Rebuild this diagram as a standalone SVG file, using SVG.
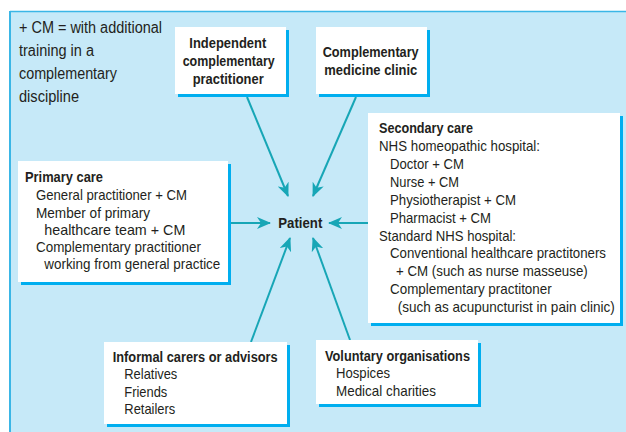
<svg xmlns="http://www.w3.org/2000/svg" width="626" height="432" viewBox="0 0 626 432">
  <style>
    text { font-family: "Liberation Sans", Arial, sans-serif; fill: #231f20; font-size: 15px; }
    .b { font-weight: bold; font-size: 14.5px; }
    .n { font-size: 16px; }
    .box { fill: #ffffff; }
    .shadow { fill: #00aeef; }
    .conn { stroke: #17a6b6; stroke-width: 2; fill: none; marker-end: url(#head); }
  </style>
  <defs>
    <marker id="head" viewBox="0 0 14 12" refX="13" refY="6" markerWidth="14" markerHeight="12" markerUnits="userSpaceOnUse" orient="auto">
      <path d="M0,0 L14,6 L0,12 L4,6 Z" fill="#17a6b6"/>
    </marker>
  </defs>

  <!-- background panel -->
  <rect x="10" y="12" width="620" height="424" fill="#c6e9f8"/>
  <line x1="10" y1="11.5" x2="626" y2="11.5" stroke="#3ab6e6" stroke-width="1.5"/>
  <line x1="10" y1="11" x2="10" y2="432" stroke="#3ab6e6" stroke-width="2"/>

  <!-- key note -->
  <g id="note">
    <text class="n" x="19" y="33" textLength="143" lengthAdjust="spacingAndGlyphs">+ CM = with additional</text>
    <text class="n" x="19" y="56" textLength="75" lengthAdjust="spacingAndGlyphs">training in a</text>
    <text class="n" x="19" y="79" textLength="98" lengthAdjust="spacingAndGlyphs">complementary</text>
    <text class="n" x="19" y="102" textLength="60" lengthAdjust="spacingAndGlyphs">discipline</text>
  </g>

  <!-- connectors -->
  <g id="connectors">
    <line class="conn" x1="247" y1="97" x2="288" y2="196"/>
    <line class="conn" x1="356" y1="97" x2="313" y2="196"/>
    <line class="conn" x1="231" y1="223" x2="270" y2="223"/>
    <line class="conn" x1="368" y1="223" x2="329" y2="223"/>
    <line class="conn" x1="251" y1="342" x2="290" y2="238"/>
    <line class="conn" x1="350" y1="340" x2="313" y2="238"/>
  </g>

  <g id="independent">
    <rect class="shadow" x="178" y="30" width="111" height="67"/>
    <rect class="box" x="175" y="27" width="111" height="67"/>
    <text class="b" x="189.3" y="48" textLength="77" lengthAdjust="spacingAndGlyphs">Independent</text>
    <text class="b" x="182.7" y="66" textLength="92" lengthAdjust="spacingAndGlyphs">complementary</text>
    <text class="b" x="192.7" y="84" textLength="71" lengthAdjust="spacingAndGlyphs">practitioner</text>
  </g>

  <g id="clinic">
    <rect class="shadow" x="319" y="30" width="111" height="67"/>
    <rect class="box" x="316" y="27" width="111" height="67"/>
    <text class="b" x="322.7" y="57" textLength="96" lengthAdjust="spacingAndGlyphs">Complementary</text>
    <text class="b" x="324.3" y="75" textLength="93" lengthAdjust="spacingAndGlyphs">medicine clinic</text>
  </g>

  <g id="primary">
    <rect class="shadow" x="21" y="164" width="210" height="121"/>
    <rect class="box" x="18" y="161" width="210" height="121"/>
    <text class="b" x="25" y="182" textLength="78" lengthAdjust="spacingAndGlyphs">Primary care</text>
    <text x="36" y="200" textLength="151" lengthAdjust="spacingAndGlyphs">General practitioner + CM</text>
    <text x="36" y="218" textLength="114" lengthAdjust="spacingAndGlyphs">Member of primary</text>
    <text x="44.3" y="235" textLength="141" lengthAdjust="spacingAndGlyphs">healthcare team + CM</text>
    <text x="36" y="252" textLength="165" lengthAdjust="spacingAndGlyphs">Complementary practitioner</text>
    <text x="44.3" y="269" textLength="176" lengthAdjust="spacingAndGlyphs">working from general practice</text>
  </g>

  <g id="patient">
    <text class="b" x="278.3" y="228" textLength="44" lengthAdjust="spacingAndGlyphs">Patient</text>
  </g>

  <g id="secondary">
    <rect class="shadow" x="371" y="116" width="252" height="210"/>
    <rect class="box" x="368" y="113" width="252" height="210"/>
    <text class="b" x="379" y="133" textLength="94" lengthAdjust="spacingAndGlyphs">Secondary care</text>
    <text x="379" y="151" textLength="161" lengthAdjust="spacingAndGlyphs">NHS homeopathic hospital:</text>
    <text x="390" y="169" textLength="74" lengthAdjust="spacingAndGlyphs">Doctor + CM</text>
    <text x="390" y="187" textLength="69" lengthAdjust="spacingAndGlyphs">Nurse + CM</text>
    <text x="390" y="205" textLength="126" lengthAdjust="spacingAndGlyphs">Physiotherapist + CM</text>
    <text x="390" y="223" textLength="101" lengthAdjust="spacingAndGlyphs">Pharmacist + CM</text>
    <text x="379" y="241" textLength="137" lengthAdjust="spacingAndGlyphs">Standard NHS hospital:</text>
    <text x="390" y="258" textLength="216" lengthAdjust="spacingAndGlyphs">Conventional healthcare practitoners</text>
    <text x="396" y="276" textLength="191.7" lengthAdjust="spacingAndGlyphs">+ CM (such as nurse masseuse)</text>
    <text x="390" y="294" textLength="161.7" lengthAdjust="spacingAndGlyphs">Complementary practitoner</text>
    <text x="397.7" y="312" textLength="217" lengthAdjust="spacingAndGlyphs">(such as acupuncturist in pain clinic)</text>
  </g>

  <g id="informal">
    <rect class="shadow" x="107" y="345" width="183" height="82"/>
    <rect class="box" x="104" y="342" width="183" height="82"/>
    <text class="b" x="112.7" y="362" textLength="165" lengthAdjust="spacingAndGlyphs">Informal carers or advisors</text>
    <text x="124.3" y="379" textLength="53" lengthAdjust="spacingAndGlyphs">Relatives</text>
    <text x="124.3" y="397" textLength="43" lengthAdjust="spacingAndGlyphs">Friends</text>
    <text x="124.3" y="414" textLength="51" lengthAdjust="spacingAndGlyphs">Retailers</text>
  </g>

  <g id="voluntary">
    <rect class="shadow" x="319" y="343" width="162" height="64"/>
    <rect class="box" x="316" y="340" width="162" height="64"/>
    <text class="b" x="325" y="361" textLength="145" lengthAdjust="spacingAndGlyphs">Voluntary organisations</text>
    <text x="336" y="378" textLength="54" lengthAdjust="spacingAndGlyphs">Hospices</text>
    <text x="336" y="396" textLength="100" lengthAdjust="spacingAndGlyphs">Medical charities</text>
  </g>
</svg>
